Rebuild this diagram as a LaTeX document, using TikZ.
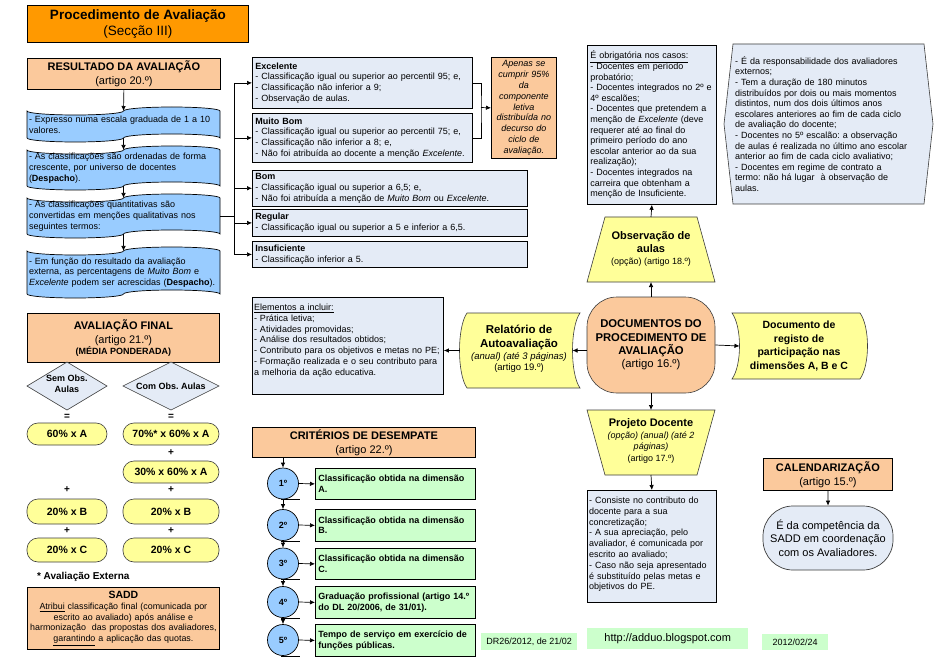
\documentclass[tikz,border=0pt]{standalone}
\usepackage{fontspec}
\setmainfont{Liberation Sans}
\usetikzlibrary{arrows.meta,calc}
\definecolor{ttl}{RGB}{255,153,0}
\definecolor{peach}{RGB}{251,201,156}
\definecolor{wblue}{RGB}{153,204,255}
\definecolor{lbox}{RGB}{228,235,246}
\definecolor{ylw}{RGB}{255,255,153}
\definecolor{grn}{RGB}{204,255,204}
\definecolor{edge}{RGB}{60,60,60}
\newcommand\myfs[2]{\fontsize{#1}{#2}\selectfont}
\newcommand\wavebox[2]{%
  \draw[line width=0.7pt, fill=wblue] (27,#1)
    arc[start angle=180,end angle=360,x radius=48.25pt,y radius=4pt]
    arc[start angle=180,end angle=0,x radius=48.25pt,y radius=4pt]
    -- (220,#2)
    arc[start angle=0,end angle=180,x radius=48.25pt,y radius=4pt]
    arc[start angle=0,end angle=-180,x radius=48.25pt,y radius=4pt]
    -- cycle;}
\frenchspacing
\begin{document}
\begin{tikzpicture}[x=1pt,y=-1pt,
  >={Latex[length=5pt,width=4.5pt]},
  every node/.style={font=\myfs{9}{10.8}},
  bx/.style={draw, line width=0.8pt, inner sep=3pt, anchor=north west, align=left},
  hd/.style={draw, line width=0.8pt, fill=peach, inner sep=1pt, anchor=north west, align=center, font=\myfs{11}{14}},
  invis/.style={inner sep=0pt, outer sep=0pt},
  sh/.style={draw=edge, line width=0.6pt},
  ln/.style={line width=0.7pt},
  ar/.style={line width=0.7pt,->},
  pill/.style={draw=edge, line width=0.6pt, fill=ylw, rounded corners=11pt, font=\myfs{10.5}{12}\bfseries, inner sep=0pt},
  opsign/.style={font=\myfs{10}{12}\bfseries, inner sep=0pt},
  circ/.style={circle, draw, line width=0.7pt, fill=wblue, minimum size=31pt, inner sep=0pt, font=\myfs{9}{10}\bfseries},
  gbox/.style={bx, fill=grn, minimum width=160pt, text width=154pt, font=\myfs{9}{10.6}\bfseries},
  foot/.style={fill=grn, inner sep=0pt, anchor=north west},
]
\useasboundingbox (0,0) rectangle (939,660);
\fill[white] (0,0) rectangle (939,660);

% ---------- title ----------
\node[hd, fill=ttl, minimum width=221pt, minimum height=37pt, font=\myfs{13.5}{16}] (title) at (27,5)
  {\textbf{Procedimento de Avaliação}\\(Secção III)};

% ---------- resultado ----------
\node[hd, minimum width=193pt, minimum height=31pt] (res) at (27,58)
  {\textbf{RESULTADO DA AVALIAÇÃO}\\(artigo 20.º)};

\wavebox{111}{138}
\node[invis, minimum width=193pt, minimum height=27pt, text width=189pt, align=left] (w1) at (123.5,124.5)
  {- Expresso numa escala graduada de 1 a 10\\valores.};
\wavebox{150}{186}
\node[invis, minimum width=193pt, minimum height=36pt, text width=189pt, align=left] (w2) at (123.5,168)
  {- As classificações são ordenadas de forma\\crescente, por universo de docentes\\(\textbf{Despacho}).};
\wavebox{198}{234}
\node[invis, minimum width=193pt, minimum height=36pt, text width=189pt, align=left] (w3) at (123.5,216)
  {- As classificações quantitativas são\\convertidas em menções qualitativas nos\\seguintes termos:};
\wavebox{251}{294}
\node[invis, minimum width=193pt, minimum height=43pt, text width=189pt, align=left] (w4) at (123.5,272.5)
  {- Em função do resultado da avaliação\\externa, as percentagens de \textit{Muito Bom} e\\\textit{Excelente} podem ser acrescidas (\textbf{Despacho}).};

\draw[ar] (res.south) -- (w1.north);
\draw[ar] (w1.south) -- (w2.north);
\draw[ar] (w2.south) -- (w3.north);
\draw[ar] (w3.south) -- (w4.north);

% ---------- classification boxes ----------
\node[bx, fill=lbox, minimum width=220pt, minimum height=51pt, text width=214pt] (exc) at (252,57)
  {\textbf{Excelente}\\- Classificação igual ou superior ao percentil 95; e,\\- Classificação não inferior a 9;\\- Observação de aulas.};
\node[bx, fill=lbox, minimum width=220pt, minimum height=49pt, text width=214pt] (mb) at (252,113)
  {\textbf{Muito Bom}\\- Classificação igual ou superior ao percentil 75; e,\\- Classificação não inferior a 8; e,\\- Não foi atribuída ao docente a menção \textit{Excelente}.};
\node[bx, fill=lbox, minimum width=275pt, minimum height=32pt, text width=269pt] (bom) at (252,170)
  {\textbf{Bom}\\- Classificação igual ou superior a 6,5; e,\\- Não foi atribuída a menção de \textit{Muito Bom} ou \textit{Excelente}.};
\node[bx, fill=lbox, minimum width=275pt, minimum height=27pt, text width=269pt] (reg) at (252,209)
  {\textbf{Regular}\\- Classificação igual ou superior a 5 e inferior a 6,5.};
\node[bx, fill=lbox, minimum width=275pt, minimum height=26pt, text width=269pt] (ins) at (252,241)
  {\textbf{Insuficiente}\\- Classificação inferior a 5.};

\coordinate (bus) at (234,216);
\draw[ln] (w3.east) -- (bus);
\draw[ln] (bus |- exc.west) -- (bus |- ins.west);
\foreach \n in {exc,mb,bom,reg,ins} \draw[ar] (bus |- \n.west) -- (\n.west);

\node[bx, fill=peach, align=center, minimum width=65pt, minimum height=101pt, text width=61pt, inner sep=2pt, font=\myfs{9}{10.9}\itshape] (note) at (491,57)
  {Apenas se\\cumprir 95\%\\da\\componente\\letiva\\distribuída no\\decurso do\\ciclo de\\avaliação.};
\coordinate (brk) at (481,107.5);
\draw[ln] (exc.east) -| (brk) |- (mb.east);
\draw[ar] (brk) -- (note.west);

% ---------- right column ----------
\node[bx, fill=lbox, minimum width=129pt, minimum height=159pt, text width=123pt, font=\myfs{9}{10.6}] (obr) at (587,45)
  {\underline{É obrigatória nos casos:}\\- Docentes em período\\probatório;\\- Docentes integrados no 2º e\\4º escalões;\\- Docentes que pretendem a\\menção de \textit{Excelente} (deve\\requerer até ao final do\\primeiro período do ano\\escolar anterior ao da sua\\realização);\\- Docentes integrados na\\carreira que obtenham a\\menção de Insuficiente.};

\node[invis, minimum width=209pt, minimum height=160pt] (hexa) at (828.5,124) {};
\draw[sh, fill=lbox] (hexa.west) -- ($(hexa.north west)+(9,0)$) -- ($(hexa.north east)+(-9,0)$) -- (hexa.east)
  -- ($(hexa.south east)+(-9,0)$) -- ($(hexa.south west)+(9,0)$) -- cycle;
\node[invis, text width=187pt, align=left, font=\myfs{9}{10.6}] (hext) at (828.5,124)
  {- É da responsabilidade dos avaliadores\\externos;\\- Tem a duração de 180 minutos\\distribuídos por dois ou mais momentos\\distintos, num dos dois últimos anos\\escolares anteriores ao fim de cada ciclo\\de avaliação do docente;\\- Docentes no 5º escalão: a observação\\de aulas é realizada no último ano escolar\\anterior ao fim de cada ciclo avaliativo;\\- Docentes em regime de contrato a\\termo: não há lugar\ \ à observação de\\aulas.};

\node[invis, minimum width=128pt, minimum height=65pt] (obs) at (651,249.5) {};
\draw[sh, fill=ylw] ($(obs.north west)+(18,0)$) -- ($(obs.north east)+(-18,0)$) -- (obs.south east) -- (obs.south west) -- cycle;
\node[invis, align=center, font=\myfs{11}{13}] (obst) at (651,249)
  {\textbf{Observação de}\\\textbf{aulas}\\[-1pt]{\myfs{9}{10}(opção) (artigo 18.º)}};

\node[draw=edge, line width=0.6pt, fill=peach, rounded corners=30pt, minimum width=128pt, minimum height=96pt, align=center, font=\myfs{11.3}{13.3}] (docs) at (651,345)
  {\textbf{DOCUMENTOS DO}\\\textbf{PROCEDIMENTO DE}\\\textbf{AVALIAÇÃO}\\(artigo 16.º)};

\node[invis, minimum width=128pt, minimum height=66pt] (regd) at (796,346) {};
\draw[sh, fill=ylw] (regd.north west) -- (regd.north east) .. controls +(10,14) and +(10,-14) .. (regd.south east)
  -- (regd.south west) .. controls +(10,-14) and +(10,14) .. (regd.north west) -- cycle;
\node[invis, align=center, font=\myfs{10.5}{13.5}\bfseries] (regt) at (799,346)
  {Documento de\\registo de\\participação nas\\dimensões A, B e C};

\node[invis, minimum width=113pt, minimum height=75pt] (rel) at (523.5,350.5) {};
\draw[sh, fill=ylw] (rel.north west) -- (rel.north east) .. controls +(-10,14) and +(-10,-14) .. (rel.south east)
  -- (rel.south west) .. controls +(-10,-14) and +(-10,14) .. (rel.north west) -- cycle;
\node[invis, align=center, font=\myfs{11.5}{14}] (relt) at (519,349)
  {\textbf{Relatório de}\\\textbf{Autoavaliação}\\[-2pt]{\myfs{9.5}{11}\textit{(anual) (até 3 páginas)}}\\[-3pt]{\myfs{9.5}{11}(artigo 19.º)}};

\node[bx, fill=lbox, minimum width=191pt, minimum height=97pt, inner sep=0pt] (elem) at (252,297) {};
\node[invis, anchor=north west, align=left, text width=187pt, font=\myfs{9}{10.8}] (elemt) at (254,304)
  {\underline{Elementos a incluir:}\\- Prática letiva;\\- Atividades promovidas;\\- Análise dos resultados obtidos;\\- Contributo para os objetivos e metas no PE;\\- Formação realizada e o seu contributo para\\a melhoria da ação educativa.};

\node[invis, minimum width=128pt, minimum height=65pt] (proj) at (651,442.5) {};
\draw[sh, fill=ylw] (proj.north west) -- (proj.north east) -- ($(proj.south east)+(-18,0)$) -- ($(proj.south west)+(18,0)$) -- cycle;
\node[invis, align=center, font=\myfs{11}{11.6}] (projt) at (651,441)
  {\textbf{Projeto Docente}\\{\myfs{9}{10}\textit{(opção) (anual) (até 2}}\\{\myfs{9}{10}\textit{páginas)}}\\{\myfs{9}{10}(artigo 17.º)}};

\node[bx, fill=lbox, minimum width=129pt, minimum height=112pt, inner sep=0pt] (cons) at (587,490) {};
\node[invis, anchor=north west, align=left, text width=125pt, font=\myfs{9}{10.8}] (const) at (589,497)
  {- Consiste no contributo do\\docente para a sua\\concretização;\\- A sua apreciação, pelo\\avaliador, é comunicada por\\escrito ao avaliado;\\- Caso não seja apresentado\\é substituído pelas metas e\\objetivos do PE.};

\draw[ar] (docs.north) -- (obs.south);
\draw[ar] (obs.north) -- (obr.south);
\draw[ar] (docs.south) -- (proj.north);
\draw[ar] (proj.south) -- (cons.north);
\draw[ar] (docs.west |- rel.center) -- ($(rel.east)+(-7.5,0)$);
\draw[ar] ($(rel.west)+(-7.5,0)$) -- (elem.east |- rel.center);
\draw[ar] (docs.east) -- ($(regd.west)+(7.5,0)$);

% ---------- calendarizacao ----------
\node[hd, minimum width=129pt, minimum height=32pt] (cal) at (763,458)
  {\textbf{CALENDARIZAÇÃO}\\(artigo 15.º)};
\node[draw=edge, line width=0.7pt, fill=lbox, rounded corners=30pt, minimum width=130pt, minimum height=64pt, align=center, font=\myfs{11}{13.3}] (term) at (828,538)
  {É da competência da\\SADD em coordenação\\com os Avaliadores.};
\draw[ar] (cal.south) -- (term.north);

% ---------- footers ----------
\node[foot, minimum width=161pt, minimum height=21pt, font=\myfs{11}{12}] (url) at (587,628) {http://adduo.blogspot.com};
\node[foot, minimum width=66pt, minimum height=16pt, font=\myfs{9}{10}] (date) at (762,634) {2012/02/24};
\node[foot, minimum width=96pt, minimum height=17pt, font=\myfs{9}{10}] (dr) at (481,633) {DR26/2012, de 21/02};

% ---------- criterios ----------
\node[hd, minimum width=223pt, minimum height=30pt] (crit) at (252,427)
  {\textbf{CRITÉRIOS DE DESEMPATE}\\(artigo 22.º)};
\node[circ] (c1) at (283,483.5) {1º};
\node[circ] (c2) at (283,525) {2º};
\node[circ] (c3) at (283,563.5) {3º};
\node[circ] (c4) at (283,602) {4º};
\node[circ] (c5) at (283,640) {5º};
\node[gbox, minimum height=31pt] (g1) at (315,468) {Classificação obtida na dimensão\\A.};
\node[gbox, minimum height=32pt] (g2) at (315,509) {Classificação obtida na dimensão\\B.};
\node[gbox, minimum height=31pt] (g3) at (315,548) {Classificação obtida na dimensão\\C.};
\node[gbox, minimum height=32pt] (g4) at (315,586) {Graduação profissional (artigo 14.º\\do DL 20/2006, de 31/01).};
\node[gbox, minimum height=32pt] (g5) at (315,624) {Tempo de serviço em exercício de\\funções públicas.};
\foreach \c in {c1,c2,c3,c4,c5} \draw[ln] ($(\c.south)+(-2,0)$) -- ($(\c.south)+(17,0)$);
\draw[ar] (c1 |- crit.south) -- (c1.north);
\draw[ar] (c1.south) -- (c2.north);
\draw[ar] (c2.south) -- (c3.north);
\draw[ar] (c3.south) -- (c4.north);
\draw[ar] (c4.south) -- (c5.north);
\foreach \i in {1,...,5} \draw[ar] (c\i.east) -- (g\i.west);

% ---------- avaliacao final ----------
\node[hd, minimum width=192pt, minimum height=49pt, font=\myfs{11}{14}] (af) at (27,313)
  {\textbf{AVALIAÇÃO FINAL}\\(artigo 21.º)\\[-3pt]{\myfs{9}{10}\textbf{(MÉDIA PONDERADA)}}};
\node[invis, minimum width=80pt, minimum height=48pt] (d1) at (67,386) {};
\draw[sh, fill=lbox] (d1.north) -- (d1.east) -- (d1.south) -- (d1.west) -- cycle;
\node[invis, align=center, font=\myfs{9}{11}\bfseries] (d1t) at (67,384) {Sem Obs.\\Aulas};
\node[invis, minimum width=96pt, minimum height=48pt] (d2) at (171,386) {};
\draw[sh, fill=lbox] (d2.north) -- (d2.east) -- (d2.south) -- (d2.west) -- cycle;
\node[invis, align=center, font=\myfs{9}{11}\bfseries] (d2t) at (171,386) {Com Obs. Aulas};

\node[opsign] (eq1) at (67,416.5) {=};
\node[opsign] (eq2) at (171,416.5) {=};
\node[pill, minimum width=80pt, minimum height=22pt] (p1) at (67,434) {60\% x A};
\node[pill, minimum width=96pt, minimum height=22pt] (p2) at (171,434) {70\%* x 60\% x A};
\node[opsign] (pl1) at (171,453) {+};
\node[pill, minimum width=96pt, minimum height=22pt] (p3) at (171,472) {30\% x 60\% x A};
\node[opsign] (pl2) at (67,490) {+};
\node[opsign] (pl3) at (171,490) {+};
\node[pill, minimum width=80pt, minimum height=25pt] (p4) at (67,511.5) {20\% x B};
\node[pill, minimum width=96pt, minimum height=25pt] (p5) at (171,511.5) {20\% x B};
\node[opsign] (pl4) at (67,531) {+};
\node[opsign] (pl5) at (171,531) {+};
\node[pill, minimum width=80pt, minimum height=24pt] (p6) at (67,550) {20\% x C};
\node[pill, minimum width=96pt, minimum height=24pt] (p7) at (171,550) {20\% x C};

\node[invis, anchor=west, font=\myfs{10}{12}\bfseries] (ext) at (37,577) {* Avaliação Externa};
\node[bx, fill=peach, minimum width=192pt, minimum height=62pt, text width=190pt, align=center, inner sep=1pt, font=\myfs{8.9}{10.8}] (sadd) at (27,587)
  {{\myfs{10.5}{11}\textbf{SADD}}\\\underline{Atribui} classificação final (comunicada por\\escrito ao avaliado) após análise e\\harmonização\ \ das propostas dos avaliadores,\\\underline{garantindo} a aplicação das quotas.};
\end{tikzpicture}
\end{document}
